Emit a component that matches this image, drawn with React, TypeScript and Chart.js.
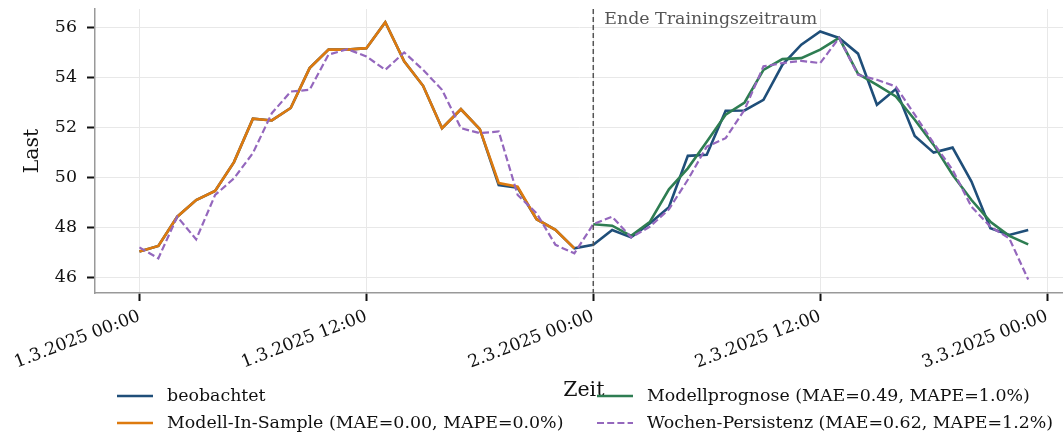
import React, { useEffect, useRef } from "react";
import { Chart, registerables } from "chart.js";

Chart.register(...registerables);

const hours = [0,1,2,3,4,5,6,7,8,9,10,11,12,13,14,15,16,17,18,19,20,21,22,23,24,25,26,27,28,29,30,31,32,33,34,35,36,37,38,39,40,41,42,43,44,45,46,47];
const forecastHours = [24,25,26,27,28,29,30,31,32,33,34,35,36,37,38,39,40,41,42,43,44,45,46,47];
const inSampleHours = [0,1,2,3,4,5,6,7,8,9,10,11,12,13,14,15,16,17,18,19,20,21,22,23];

const observed = [47.02,47.25,48.42,49.09,49.45,50.61,52.35,52.28,52.78,54.38,55.12,55.12,55.18,56.22,54.65,53.67,51.97,52.73,51.93,49.69,49.58,48.32,47.89,47.15,
  47.29,47.89,47.59,48.16,48.80,50.86,50.90,52.67,52.68,53.11,54.51,55.32,55.85,55.59,54.96,52.91,53.54,51.66,50.99,51.19,49.83,47.96,47.69,47.89];
const inSample = [47.02,47.25,48.42,49.09,49.45,50.61,52.35,52.28,52.78,54.38,55.12,55.12,55.18,56.22,54.65,53.67,51.97,52.73,51.93,49.77,49.62,48.32,47.89,47.15];
const forecast = [48.12,48.06,47.65,48.22,49.52,50.36,51.43,52.51,53.0,54.31,54.74,54.78,55.12,55.59,54.15,53.71,53.24,52.31,51.30,50.1,49.09,48.22,47.65,47.31];
const persistence = [47.19,46.75,48.42,47.51,49.29,49.96,50.97,52.57,53.44,53.51,54.92,55.14,54.85,54.31,55.01,54.31,53.51,51.97,51.77,51.84,49.29,48.56,47.29,46.95,
  48.12,48.42,47.59,48.02,48.72,49.9,51.23,51.57,52.71,54.45,54.58,54.67,54.58,55.59,54.11,53.91,53.64,52.51,51.37,50.3,48.82,48.02,47.55,45.9];

const xTickHours = [0, 12, 24, 36, 48];
const xTickLabels = ["1.3.2025 00:00", "1.3.2025 12:00", "2.3.2025 00:00", "2.3.2025 12:00", "3.3.2025 00:00"];
const yTicks = [46, 48, 50, 52, 54, 56];
const trainingEndHour = 24;
const xRange = [-2.35, 48.84];
const xFullMax = 49.35;
const yRange = [45.36, 56.75];

const seriesNames = [
  "beobachtet",
  "Modell-In-Sample (MAE=0.00, MAPE=0.0%)",
  "Modellprognose (MAE=0.49, MAPE=1.0%)",
  "Wochen-Persistenz (MAE=0.62, MAPE=1.2%)",
];
const colors = ["#1f4e79", "#dd7a0e", "#2e7d52", "#9467bd"];

const FONT = "'DejaVu Serif', serif";
const TICK_SIZE = 17.4;
const LABEL_SIZE = 20.5;

const toPts = (xs: number[], ys: number[]) => xs.map((x, i) => ({ x, y: ys[i] }));

export default function App() {
  const ref = useRef<HTMLCanvasElement | null>(null);
  useEffect(() => {
    document.body.style.margin = "0";
    const canvas = ref.current!;
    const overlay = {
      id: "overlay",
      afterDatasetsDraw(chart: any) {
        const { ctx, chartArea, scales } = chart;
        const xs = scales.x;
        const px = xs.getPixelForValue(trainingEndHour);
        ctx.save();
        ctx.strokeStyle = "#555555";
        ctx.lineWidth = 1.5;
        ctx.setLineDash([5, 3]);
        ctx.beginPath();
        ctx.moveTo(px, chartArea.top);
        ctx.lineTo(px, chartArea.bottom);
        ctx.stroke();
        ctx.setLineDash([]);
        ctx.fillStyle = "#555555";
        ctx.font = `${TICK_SIZE}px ${FONT}`;
        ctx.textAlign = "left";
        ctx.textBaseline = "alphabetic";
        ctx.fillText("Ende Trainingszeitraum", px + 11, 24);
        ctx.restore();
      },
      afterDraw(chart: any) {
        const { ctx, chartArea, scales } = chart;
        ctx.save();
        const fullRight = scales.x.getPixelForValue(xFullMax);
        ctx.fillStyle = "#111";
        ctx.font = `${LABEL_SIZE}px ${FONT}`;
        ctx.textAlign = "center";
        ctx.textBaseline = "alphabetic";
        ctx.fillText("Zeit", (chartArea.left + fullRight) / 2, 396);
        const cols = [117, 597];
        const rows = [396, 423];
        const order = [[0, 0, 0], [1, 0, 1], [2, 1, 0], [3, 1, 1]];
        ctx.font = `${TICK_SIZE}px ${FONT}`;
        ctx.textAlign = "left";
        ctx.textBaseline = "middle";
        for (const [i, c, r] of order) {
          const x = cols[c];
          const y = rows[r];
          ctx.strokeStyle = colors[i];
          ctx.lineWidth = i === 3 ? 2.2 : 2.6;
          ctx.setLineDash(i === 3 ? [7, 3.2] : []);
          ctx.beginPath();
          ctx.moveTo(x, y);
          ctx.lineTo(x + 36, y);
          ctx.stroke();
          ctx.setLineDash([]);
          ctx.fillStyle = "#111";
          ctx.fillText(seriesNames[i], x + 50, y);
        }
        ctx.restore();
      },
    };
    const chart = new Chart(canvas, {
      type: "line",
      data: {
        datasets: [
          { label: seriesNames[0], data: toPts(hours, observed), borderColor: colors[0], borderWidth: 2.6, pointRadius: 0, order: 4 },
          { label: seriesNames[1], data: toPts(inSampleHours, inSample), borderColor: colors[1], borderWidth: 2.6, pointRadius: 0, order: 3 },
          { label: seriesNames[2], data: toPts(forecastHours, forecast), borderColor: colors[2], borderWidth: 2.6, pointRadius: 0, order: 2 },
          { label: seriesNames[3], data: toPts(hours, persistence), borderColor: colors[3], borderWidth: 2.2, borderDash: [7, 3.2], pointRadius: 0, order: 1 },
        ],
      },
      options: {
        animation: false,
        responsive: false,
        maintainAspectRatio: false,
        layout: { padding: { top: 9, right: 0, left: 0, bottom: 0 } },
        plugins: { legend: { display: false }, tooltip: { enabled: false } },
        scales: {
          x: {
            type: "linear",
            min: xRange[0],
            max: xRange[1],
            afterBuildTicks: (axis: any) => {
              axis.ticks = xTickHours.map((v) => ({ value: v }));
            },
            afterFit: (axis: any) => {
              axis.paddingLeft = 0;
              axis.paddingRight = 0;
              axis.height = 142;
            },
            ticks: {
              autoSkip: false,
              minRotation: 21,
              maxRotation: 21,
              padding: 5,
              color: "#111",
              font: { family: FONT, size: TICK_SIZE },
              callback: (v: any) => {
                const i = xTickHours.indexOf(Number(v));
                return i >= 0 ? xTickLabels[i] : "";
              },
            },
            grid: { color: "#e8e8e8", lineWidth: 1, tickColor: "#111", tickLength: 8, tickWidth: 2 },
            border: { color: "#999", width: 1.5 },
          },
          y: {
            min: yRange[0],
            max: yRange[1],
            afterBuildTicks: (axis: any) => {
              axis.ticks = yTicks.map((v) => ({ value: v }));
            },
            afterFit: (axis: any) => {
              axis.width = 95;
              axis.paddingTop = 0;
              axis.paddingBottom = 0;
            },
            ticks: { color: "#111", padding: 10, font: { family: FONT, size: TICK_SIZE } },
            title: { display: true, text: "Last", color: "#111", font: { family: FONT, size: LABEL_SIZE }, padding: { top: 20, bottom: 0 } },
            grid: { color: "#e8e8e8", lineWidth: 1, tickColor: "#111", tickLength: 8, tickWidth: 2 },
            border: { color: "#999", width: 1.5 },
          },
        },
      },
      plugins: [overlay],
    });
    return () => chart.destroy();
  }, []);
  return <canvas ref={ref} width={1063} height={435} style={{ display: "block" }} />;
}
